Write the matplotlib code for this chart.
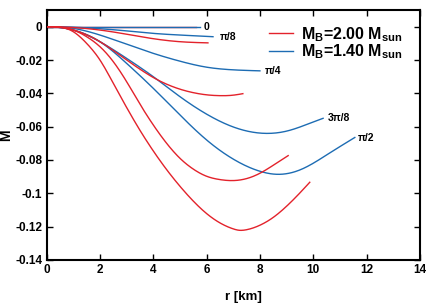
import matplotlib
matplotlib.use("Agg")
import matplotlib.pyplot as plt
import numpy as np

plt.rcParams['font.family'] = ['Liberation Sans', 'DejaVu Sans']
plt.rcParams['mathtext.fontset'] = 'custom'
plt.rcParams['mathtext.rm'] = 'Liberation Sans:bold'
plt.rcParams['mathtext.it'] = 'Liberation Sans:bold'
plt.rcParams['mathtext.bf'] = 'Liberation Sans:bold'

RED = '#e3222b'
BLUE = '#1d6cb3'

# ---- data: M_B = 2.00 M_sun (red) ----
r_red_0 = [0, 5.6]
m_red_0 = [0, 0]
r_red_pi8 = [0, 1, 2, 3, 4, 5, 6.05]
m_red_pi8 = [0, -0.0005, -0.002, -0.0045, -0.0072, -0.009, -0.0097]
r_red_pi4 = [0, 1, 2, 3, 3.5, 4, 4.5, 5, 5.5, 6, 6.5, 7, 7.36]
m_red_pi4 = [0, -0.002, -0.009, -0.020, -0.0255, -0.0305, -0.0345, -0.0375, -0.0396, -0.0409, -0.0414, -0.0411, -0.0402]
r_red_3pi8 = [0, 1, 1.5, 2, 2.5, 3, 3.5, 4, 4.5, 5, 5.5, 6, 6.5, 6.94, 7.5, 8, 8.5, 9.06]
m_red_3pi8 = [0, -0.002, -0.006, -0.012, -0.021, -0.033, -0.0465, -0.0590, -0.0700, -0.0790, -0.0855, -0.0898,
              -0.0918, -0.0924, -0.0912, -0.0880, -0.0832, -0.0774]
r_red_pi2 = [0, 1, 1.5, 2, 2.5, 3, 3.5, 4, 4.5, 5, 5.5, 6, 6.5, 7, 7.2, 7.5, 8, 8.5, 9, 9.5, 9.87]
m_red_pi2 = [0, -0.003, -0.010, -0.020, -0.034, -0.0485, -0.0622, -0.0746, -0.0858, -0.0958, -0.1047, -0.1122,
             -0.1178, -0.1214, -0.1222, -0.1219, -0.1192, -0.1145, -0.1078, -0.0998, -0.0934]

# ---- data: M_B = 1.40 M_sun (blue) ----
r_blue_0 = [0, 5.75]
m_blue_0 = [0, 0]
r_blue_pi8 = [0, 1, 2, 3, 4, 5, 6.24]
m_blue_pi8 = [0, -0.0003, -0.0012, -0.0025, -0.004, -0.005, -0.006]
r_blue_pi4 = [0, 1, 2, 3, 4, 5, 6, 7, 8]
m_blue_pi4 = [0, -0.001, -0.005, -0.0105, -0.016, -0.0207, -0.0243, -0.0259, -0.0265]
r_blue_3pi8 = [0, 1, 2, 3, 4, 5, 6, 7, 8.12, 9, 10, 10.37]
m_blue_3pi8 = [0, -0.002, -0.009, -0.019, -0.030, -0.042, -0.0525, -0.0602, -0.064, -0.0627, -0.0572, -0.055]
r_blue_pi2 = [0, 1, 2, 3, 4, 5, 6, 7, 8, 8.6, 9.5, 10.6, 11.56]
m_blue_pi2 = [0, -0.002, -0.009, -0.022, -0.037, -0.053, -0.068, -0.0795, -0.0868, -0.0886, -0.0860, -0.0760,
              -0.0665]

curve_labels = ['0', 'π/8', 'π/4', '3π/8', 'π/2']
label_r = [5.87, 6.5, 8.19, 10.53, 11.66]
label_m = [0.0, -0.006, -0.0264, -0.055, -0.0666]

xticks = [0, 2, 4, 6, 8, 10, 12, 14]
yticks = [0, -0.02, -0.04, -0.06, -0.08, -0.1, -0.12, -0.14]
ytick_labels = ['0', '-0.02', '-0.04', '-0.06', '-0.08', '-0.1', '-0.12', '-0.14']
legend_labels = [r'M$_\mathrm{B}$=2.00 M$_\mathrm{sun}$', r'M$_\mathrm{B}$=1.40 M$_\mathrm{sun}$']


def smooth(r, m, n=300):
    """Cubic spline through the read points (zero slope at r=0, natural end)."""
    x = np.asarray(r, float)
    y = np.asarray(m, float)
    N = len(x)
    if N < 3:
        return x, y
    h = np.diff(x)
    A = np.zeros((N, N))
    b = np.zeros(N)
    A[0, 0] = 2 * h[0]
    A[0, 1] = h[0]
    b[0] = 6 * ((y[1] - y[0]) / h[0] - 0.0)
    for i in range(1, N - 1):
        A[i, i - 1] = h[i - 1]
        A[i, i] = 2 * (h[i - 1] + h[i])
        A[i, i + 1] = h[i]
        b[i] = 6 * ((y[i + 1] - y[i]) / h[i] - (y[i] - y[i - 1]) / h[i - 1])
    A[-1, -1] = 1.0
    b[-1] = 0.0
    M2 = np.linalg.solve(A, b)
    xs = np.linspace(x[0], x[-1], n)
    idx = np.clip(np.searchsorted(x, xs) - 1, 0, N - 2)
    hi = h[idx]
    a = x[idx + 1] - xs
    c = xs - x[idx]
    ys = (M2[idx] * a**3 / (6 * hi) + M2[idx + 1] * c**3 / (6 * hi)
          + (y[idx] / hi - M2[idx] * hi / 6) * a + (y[idx + 1] / hi - M2[idx + 1] * hi / 6) * c)
    return xs, ys


fig = plt.figure(figsize=(4.36, 3.05), dpi=100)
ax = fig.add_axes([0.107, 0.148, 0.856, 0.819])

lw = 1.0
ax.plot(*smooth(r_red_0, m_red_0), color=RED, lw=lw, zorder=1)
blues = [(r_blue_0, m_blue_0), (r_blue_pi8, m_blue_pi8), (r_blue_pi4, m_blue_pi4),
         (r_blue_3pi8, m_blue_3pi8), (r_blue_pi2, m_blue_pi2)]
reds = [(r_red_pi8, m_red_pi8), (r_red_pi4, m_red_pi4), (r_red_3pi8, m_red_3pi8), (r_red_pi2, m_red_pi2)]
hb = None
for r, m in blues:
    hb, = ax.plot(*smooth(r, m), color=BLUE, lw=lw, zorder=2)
hr = None
for r, m in reds:
    hr, = ax.plot(*smooth(r, m), color=RED, lw=lw, zorder=3)

for lab, x, y in zip(curve_labels, label_r, label_m):
    ax.text(x, y, lab, fontsize=7.5, fontweight='bold', ha='left', va='center')

ax.set_xlim(0, 14)
ax.set_ylim(-0.14, 0.01)
ax.set_xticks(xticks)
ax.set_xticklabels([str(t) for t in xticks], fontweight='bold', fontsize=8.5)
ax.set_yticks(yticks)
ax.set_yticklabels(ytick_labels, fontweight='bold', fontsize=8.5)
ax.tick_params(direction='in', top=True, right=True, length=4, width=1.0, pad=3)
for s in ax.spines.values():
    s.set_linewidth(1.5)

ax.set_xlabel('r [km]', fontweight='bold', fontsize=9.5)
ax.xaxis.set_label_coords(0.526, -0.125)
ax.set_ylabel('M', fontweight='bold', fontsize=10)
ax.yaxis.set_label_coords(-0.09, 0.5)

leg = ax.legend([hr, hb], legend_labels, loc='upper right', bbox_to_anchor=(0.955, 0.94),
                frameon=False, labelspacing=-0.1, handlelength=1.5,
                handletextpad=0.5, borderpad=0, borderaxespad=0,
                prop={'weight': 'bold', 'size': 11.5})
for t in leg.get_texts():
    t.set_fontweight('bold')

fig.savefig('out.png', dpi=100)
